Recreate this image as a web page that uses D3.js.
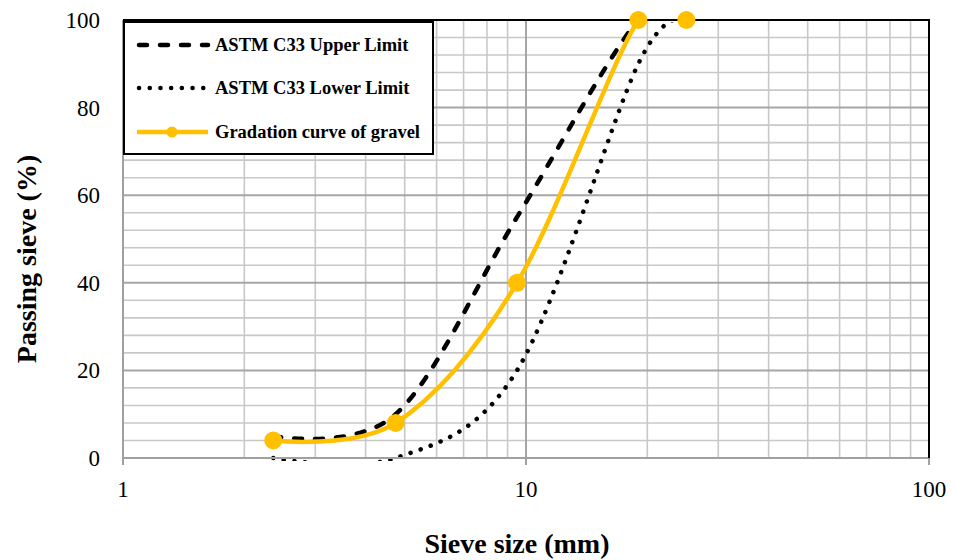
<!DOCTYPE html>
<html>
<head>
<meta charset="utf-8">
<script src="https://cdn.jsdelivr.net/npm/d3@7"></script>
<style>
  body { margin: 0; background: #fff; }
  text { font-family: "Liberation Serif", "Times New Roman", serif; }
</style>
</head>
<body>
<svg id="chart"></svg>
<script>
// Data
const sieveSizes = [2.36, 4.75, 9.5, 19, 25];
const upperLimit = [5, 10, 55, 100, 100];
const lowerLimit = [0, 0, 20, 90, 100];
const gravel = [4, 8, 40, 100, 100];
const xTicks = [1, 10, 100];
const yTicks = [0, 20, 40, 60, 80, 100];
const seriesNames = ["ASTM C33 Upper Limit", "ASTM C33 Lower Limit", "Gradation curve of gravel"];

const width = 957;
const height = 560;
const plotLeft = 123, plotRight = 929, plotTop = 20, plotBottom = 458;

const svg = d3.select("#chart")
    .attr("width", width)
    .attr("height", height);

const x = d3.scaleLog().domain([1, 100]).range([plotLeft, plotRight]);
const y = d3.scaleLinear().domain([0, 100]).range([plotBottom, plotTop]);

// Grid lines
const xMinor = [];
for (let dec = 1; dec < 100; dec *= 10) {
    for (let k = 2; k <= 9; k++) xMinor.push(k * dec);
}
const yMinor = d3.range(0, 101, 4).filter(v => v % 20 !== 0);

const grid = svg.append("g");
grid.selectAll(".vminor")
    .data(xMinor)
    .enter().append("line")
    .attr("x1", d => x(d)).attr("x2", d => x(d))
    .attr("y1", plotTop).attr("y2", plotBottom)
    .attr("stroke", "#c8c8c8")
    .attr("stroke-width", 1.6);
grid.selectAll(".hminor")
    .data(yMinor)
    .enter().append("line")
    .attr("x1", plotLeft).attr("x2", plotRight)
    .attr("y1", d => y(d)).attr("y2", d => y(d))
    .attr("stroke", "#c8c8c8")
    .attr("stroke-width", 1.6);
grid.selectAll(".hmajor")
    .data(yTicks)
    .enter().append("line")
    .attr("x1", plotLeft).attr("x2", plotRight)
    .attr("y1", d => y(d)).attr("y2", d => y(d))
    .attr("stroke", "#a6a6a6")
    .attr("stroke-width", 2);
grid.selectAll(".vmajor")
    .data(xTicks)
    .enter().append("line")
    .attr("x1", d => x(d)).attr("x2", d => x(d))
    .attr("y1", plotTop).attr("y2", plotBottom)
    .attr("stroke", "#a6a6a6")
    .attr("stroke-width", 2);

// x ticks below axis
grid.selectAll(".xtick")
    .data(xTicks)
    .enter().append("line")
    .attr("x1", d => x(d)).attr("x2", d => x(d))
    .attr("y1", plotBottom).attr("y2", plotBottom + 7)
    .attr("stroke", "#a0a0a0")
    .attr("stroke-width", 2);

// Tick labels
svg.selectAll(".xlabel")
    .data(xTicks)
    .enter().append("text")
    .attr("x", d => x(d))
    .attr("y", 497)
    .attr("text-anchor", "middle")
    .attr("font-size", 23)
    .text(d => d);

svg.selectAll(".ylabel")
    .data(yTicks)
    .enter().append("text")
    .attr("x", 100)
    .attr("y", d => y(d))
    .attr("dy", "0.35em")
    .attr("text-anchor", "end")
    .attr("font-size", 23)
    .text(d => d);

// Axis titles
svg.append("text")
    .attr("x", 517)
    .attr("y", 553)
    .attr("text-anchor", "middle")
    .attr("font-size", 28)
    .attr("font-weight", "bold")
    .text("Sieve size (mm)");

svg.append("text")
    .attr("transform", "translate(36,259) rotate(-90)")
    .attr("text-anchor", "middle")
    .attr("font-size", 28)
    .attr("font-weight", "bold")
    .text("Passing sieve (%)");

// Series
svg.append("clipPath").attr("id", "plot-clip")
    .append("rect")
    .attr("x", plotLeft).attr("y", plotTop + 2)
    .attr("width", plotRight - plotLeft).attr("height", plotBottom - plotTop + 1);

const line = d3.line()
    .x(d => x(d[0]))
    .y(d => y(d[1]))
    .curve(d3.curveCatmullRom.alpha(0));

const series = svg.append("g").attr("clip-path", "url(#plot-clip)");

series.append("path")
    .attr("d", line(d3.zip(sieveSizes, upperLimit)))
    .attr("fill", "none")
    .attr("stroke", "#000")
    .attr("stroke-width", 4.5)
    .attr("stroke-linecap", "round")
    .attr("stroke-dasharray", "8 13");

series.append("path")
    .attr("d", line(d3.zip(sieveSizes, lowerLimit)))
    .attr("fill", "none")
    .attr("stroke", "#000")
    .attr("stroke-width", 4.5)
    .attr("stroke-linecap", "round")
    .attr("stroke-dasharray", "0.1 10.6");

series.append("path")
    .attr("d", line(d3.zip(sieveSizes, gravel)))
    .attr("fill", "none")
    .attr("stroke", "#FFC000")
    .attr("stroke-width", 4.5);

// Axis lines and border
svg.append("line")
    .attr("x1", plotLeft).attr("x2", plotLeft).attr("y1", plotTop).attr("y2", plotBottom)
    .attr("stroke", "#a0a0a0").attr("stroke-width", 2);
svg.append("line")
    .attr("x1", plotLeft).attr("x2", plotRight).attr("y1", plotBottom).attr("y2", plotBottom)
    .attr("stroke", "#a0a0a0").attr("stroke-width", 2);
svg.append("line")
    .attr("x1", plotLeft).attr("x2", plotRight + 1).attr("y1", plotTop).attr("y2", plotTop)
    .attr("stroke", "#000").attr("stroke-width", 2);
svg.append("line")
    .attr("x1", plotRight).attr("x2", plotRight).attr("y1", plotTop).attr("y2", plotBottom)
    .attr("stroke", "#000").attr("stroke-width", 2);

// Markers
svg.selectAll(".marker")
    .data(d3.zip(sieveSizes, gravel))
    .enter().append("circle")
    .attr("cx", d => x(d[0]))
    .attr("cy", d => y(d[1]))
    .attr("r", 9)
    .attr("fill", "#FFC000");

// Legend
const legend = svg.append("g");
legend.append("rect")
    .attr("x", 124).attr("y", 22)
    .attr("width", 309).attr("height", 132)
    .attr("fill", "#fff")
    .attr("stroke", "#000")
    .attr("stroke-width", 2);

const rowY = [45, 88, 132];
const styles = [
    { color: "#000", dash: "8 13" },
    { color: "#000", dash: "0.1 10.6" },
    { color: "#FFC000", dash: null }
];

legend.selectAll(".sample")
    .data(seriesNames)
    .enter().append("line")
    .attr("x1", (d, i) => i === 2 ? 137 : 139)
    .attr("x2", 208)
    .attr("y1", (d, i) => rowY[i])
    .attr("y2", (d, i) => rowY[i])
    .attr("stroke", (d, i) => styles[i].color)
    .attr("stroke-width", 4.5)
    .attr("stroke-linecap", (d, i) => i === 2 ? "butt" : "round")
    .attr("stroke-dasharray", (d, i) => styles[i].dash);

legend.append("circle")
    .attr("cx", 172).attr("cy", rowY[2])
    .attr("r", 5.5)
    .attr("fill", "#FFC000");

legend.selectAll(".ltext")
    .data(seriesNames)
    .enter().append("text")
    .attr("x", 215)
    .attr("y", (d, i) => rowY[i])
    .attr("dy", "0.35em")
    .attr("font-size", 18.5)
    .attr("font-weight", "bold")
    .text(d => d);
</script>
</body>
</html>
